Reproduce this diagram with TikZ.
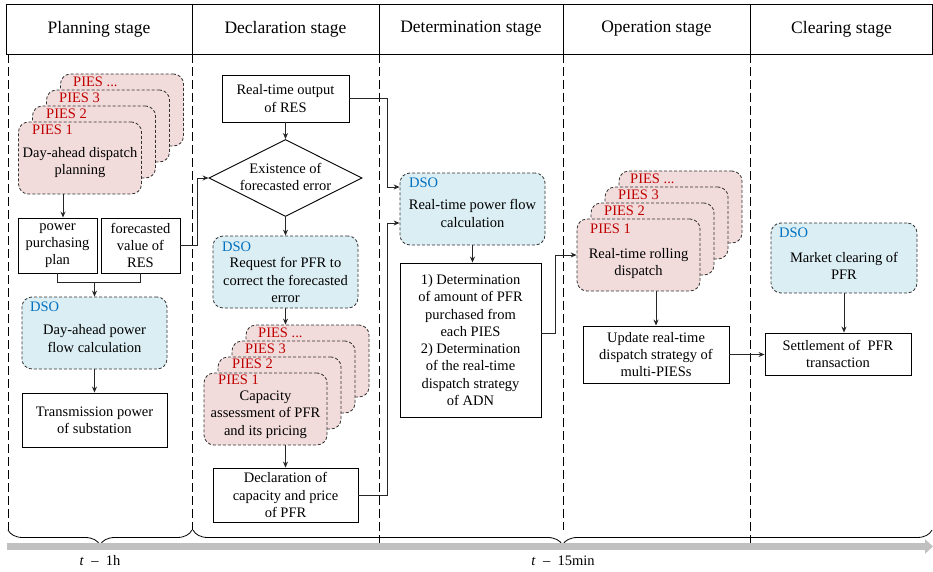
\documentclass[tikz,border=0pt]{standalone}
\usepackage{fontspec}
\setmainfont{Liberation Serif}
\usetikzlibrary{arrows.meta,shapes.geometric,decorations.pathreplacing}

\definecolor{piesfill}{HTML}{F2DCDB}
\definecolor{dsofill}{HTML}{DBEEF4}
\definecolor{piesred}{HTML}{C00000}
\definecolor{dsoblue}{HTML}{0070C0}
\definecolor{timegray}{HTML}{C0C0C0}

\begin{document}
\begin{tikzpicture}[x=1pt, y=-1pt,
  font=\fontsize{14.5}{17.3}\selectfont, >={Stealth[length=6pt,width=5pt]},
  txt/.style={align=center, inner sep=0pt},
  hdr/.style={font=\fontsize{17.5}{20}\selectfont},
  lbl/.style={anchor=west, inner sep=0pt, font=\fontsize{14.5}{16}\selectfont},
  pieslbl/.style={lbl, text=piesred},
  dsolbl/.style={lbl, text=dsoblue},
  solidbox/.style={draw, line width=0.9pt, align=center, inner sep=0pt},
  piesbox/.style={draw=black!80, dash pattern=on 3pt off 2pt, line width=0.8pt,
    rounded corners=10pt, fill=piesfill, minimum width=123pt,
    minimum height=72pt, inner sep=0pt},
  dsobox/.style={piesbox, fill=dsofill, minimum width=145pt},
  stage/.style={dash pattern=on 9pt off 4pt, line width=1pt},
  brc/.style={line width=0.8pt, decorate, decoration={brace, mirror, amplitude=15pt}},
  conn/.style={line width=0.9pt, black!85},
  arr/.style={conn, ->},
]
\useasboundingbox (0,0) rectangle (933,572);

% Header row
\draw[line width=0.9pt] (6,4) rectangle (932.5,54);
\draw[line width=0.9pt] (192,4) -- (192,54) (379,4) -- (379,54)
  (563,4) -- (563,54) (750,4) -- (750,54);
\node[hdr] (hplan) at (99,29) {Planning stage};
\node[hdr] (hdecl) at (285.5,29) {Declaration stage};
\node[hdr] (hdetm) at (471,29) {Determination stage};
\node[hdr] (hop) at (656.5,29) {Operation stage};
\node[hdr] (hclr) at (841.5,29) {Clearing stage};

% Stage borders
\draw[stage] (8,54) -- (8,530);
\draw[stage] (192,54) -- (192,530);
\draw[stage] (379,54) -- (379,545);
\draw[stage] (563,54) -- (563,530);
\draw[stage] (750,54) -- (750,545);

% Planning stage
\node[piesbox] (plan4) at (122,110) {};
\node[pieslbl] (plan4l) at (73,82) {PIES ...};
\node[piesbox] (plan3) at (108,126) {};
\node[pieslbl] (plan3l) at (59,98) {PIES 3};
\node[piesbox] (plan2) at (94,142) {};
\node[pieslbl] (plan2l) at (46,114) {PIES 2};
\node[piesbox] (plan1) at (80,158) {};
\node[pieslbl] (plan1l) at (32,130) {PIES 1};
\node[txt] (plantxt) at (80,162.5) {Day-ahead dispatch\\planning};

\node[solidbox, minimum width=79pt, minimum height=55pt] (purch) at (57.5,245.5)
  {power\\purchasing\\plan};
\node[solidbox, minimum width=79pt, minimum height=55pt] (fcst) at (140.5,245.5)
  {forecasted\\value of\\RES};

\node[dsobox] (dsoplan) at (94.5,333) {};
\node[dsolbl] (dsoplanl) at (30,307) {DSO};
\node[txt] (dsoplantxt) at (94.5,338.5) {Day-ahead power\\flow calculation};
\node[solidbox, minimum width=145pt, minimum height=54pt] (trans) at (94.5,420)
  {Transmission power\\of substation};

\draw[arr] ([xshift=5.5pt]purch.north |- plan1.south) -- ([xshift=5.5pt]purch.north);
\draw[conn] (purch.south) -- ++(0,9) coordinate (join) -| (fcst.south);
\draw[arr] (dsoplan.north |- join) -- (dsoplan.north);
\draw[arr] (dsoplan.south) -- (trans.north);

% Declaration stage
\node[solidbox, minimum width=127pt, minimum height=47pt] (rtres) at (285.5,98.5)
  {Real-time output\\of RES};
\node[draw, diamond, line width=0.9pt, minimum width=153pt, minimum height=77pt,
  inner sep=0pt] (exist) at (285.5,178) {};
\node[txt] (existtxt) at (285.5,177) {Existence of\\forecasted error};

\node[dsobox] (dsoreq) at (285.5,272) {};
\node[dsolbl] (dsoreql) at (222,247) {DSO};
\node[txt] (dsoreqtxt) at (285.5,280) {Request for PFR to\\correct the forecasted\\error};

\node[piesbox] (decl4) at (307.5,361) {};
\node[pieslbl] (decl4l) at (258,333) {PIES ...};
\node[piesbox] (decl3) at (293.5,377) {};
\node[pieslbl] (decl3l) at (245,349) {PIES 3};
\node[piesbox] (decl2) at (279.5,393) {};
\node[pieslbl] (decl2l) at (232,364) {PIES 2};
\node[piesbox] (decl1) at (265.5,409) {};
\node[pieslbl] (decl1l) at (218,380) {PIES 1};
\node[txt] (decltxt) at (265.5,414.5) {Capacity\\assessment of PFR\\and its pricing};

\node[solidbox, minimum width=145pt, minimum height=54pt] (declpfr) at (285.5,495)
  {Declaration of\\capacity and price\\of PFR};

\draw[arr] (fcst.east) -- ++(17,0) |- (exist.west);
\draw[arr] (rtres.south) -- (exist.north);
\draw[arr] (exist.south) -- (dsoreq.north);
\draw[arr] (dsoreq.south) -- (dsoreq.south |- decl4.north);
\draw[arr] (declpfr.north |- decl1.south) -- (declpfr.north);

% Determination stage
\node[dsobox] (dsort) at (472.5,209) {};
\node[dsolbl] (dsortl) at (409,183) {DSO};
\node[txt] (dsorttxt) at (472.5,213.5) {Real-time power flow\\calculation};
\node[solidbox, minimum width=141pt, minimum height=154pt] (detm) at (470.5,340)
  {1) Determination\\of amount of PFR\\purchased from\\each PIES\\2) Determination\\of the real-time\\dispatch strategy\\of ADN};

\draw[arr] (rtres.east) -- ++(38,0) |- ([yshift=22pt]dsort.west);
\draw[arr] (declpfr.east) -- ++(29,0) |- ([yshift=-14pt]dsort.west);
\draw[arr] (dsort.south) -- (dsort.south |- detm.north);

% Operation stage
\node[piesbox] (op4) at (680.5,207) {};
\node[pieslbl] (op4l) at (630,179) {PIES ...};
\node[piesbox] (op3) at (666.5,223) {};
\node[pieslbl] (op3l) at (618,195) {PIES 3};
\node[piesbox] (op2) at (652.5,239) {};
\node[pieslbl] (op2l) at (604,211) {PIES 2};
\node[piesbox] (op1) at (638.5,255) {};
\node[pieslbl] (op1l) at (590,229) {PIES 1};
\node[txt] (optxt) at (638.5,263.5) {Real-time rolling\\dispatch};
\node[solidbox, minimum width=146pt, minimum height=57pt] (upd) at (656,354.5)
  {Update real-time\\dispatch strategy of\\multi-PIESs};

\draw[arr] ([yshift=7pt]detm.east) -- ++(14,0) |- (op1.west);
\draw[arr] (upd.north |- op1.south) -- (upd.north);

% Clearing stage
\node[dsobox, minimum width=146pt, minimum height=70pt] (dsomkt) at (844,258) {};
\node[dsolbl] (dsomktl) at (779,233) {DSO};
\node[txt] (dsomkttxt) at (844,266) {Market clearing of\\PFR};
\node[solidbox, minimum width=146pt, minimum height=42pt] (settle) at (838,354)
  {Settlement of\ \ PFR\\transaction};

\draw[arr] (dsomkt.south) -- (dsomkt.south |- settle.north);
\draw[arr] (upd.east) -- (settle.west |- upd.east);

% Time line
\draw[brc] (8,530) -- (192,530);
\draw[brc] (193,530) -- (932,530);
\draw[line width=7.5pt, timegray, -{Triangle[length=8pt,width=14pt]}]
  (7,546.5) -- (933,546.5);
\node[txt] (t1) at (100,561) {\textit{t}\ \ –\ \ 1h};
\node[txt] (t2) at (563,561) {\textit{t}\ \ –\ \ 15min};

\end{tikzpicture}
\end{document}
